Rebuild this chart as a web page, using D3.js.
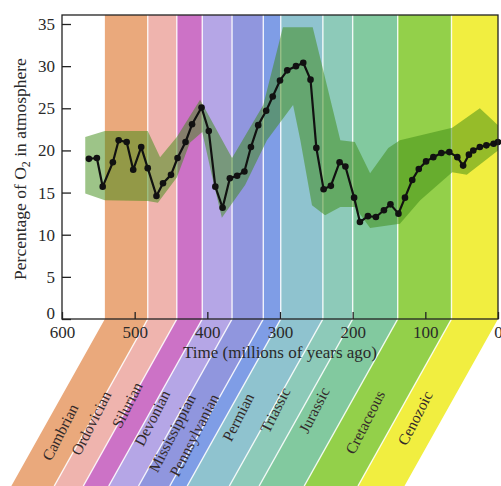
<!DOCTYPE html>
<html><head><meta charset="utf-8">
<script src="https://cdn.jsdelivr.net/npm/d3@7"></script>
<style>body{margin:0;background:#fff;overflow:hidden}svg{display:block}</style>
</head><body><svg id="c" width="501" height="486"></svg>
<script>
// ---------- data ----------
const periods = ["Cambrian","Ordovician","Silurian","Devonian","Mississippian","Pennsylvanian","Permian","Triassic","Jurassic","Cretaceous","Cenozoic"];
const periodStartMa = [541,482,442,407,366,323,299,241,200,138,64];
const periodEndMa   = [482,442,407,366,323,299,241,200,138,64,0];

const ageMa = [563,552,544,530,522,511,502,491,482,470,461,450,441,430,421,408,398,389,379,369,359,349,340,330,319,310,300,290,278,268,258,250,240,230,218,210,198,190,179,168,157,148,137,128,118,109,99,89,78,67,56,48,40,34,25,16,6,0];
const o2Pct = [19.0,19.1,15.7,18.6,21.2,21.0,17.7,20.4,17.9,14.6,16.1,17.1,19.1,21.0,23.1,25.1,22.3,15.7,13.2,16.7,17.0,17.5,20.4,23.0,24.7,26.4,28.3,29.5,30.0,30.4,28.4,20.3,15.4,15.8,18.6,18.1,14.4,11.5,12.2,12.1,12.9,13.6,12.5,14.4,16.5,17.8,18.7,19.2,19.7,19.8,19.2,18.2,19.5,20.0,20.4,20.6,20.8,21.0];

const envUpperMa  = [568,541,482,465,442,410,366,323,296,255,217,197,176,151,135,63,25,0];
const envUpperPct = [21.6,22.3,22.3,19.2,21.6,26.0,19.1,25.4,34.6,34.6,21.2,21.0,17.3,20.3,21.2,22.7,25.0,23.0];
const envLowerMa  = [568,541,482,468,442,424,407,394,380,348,318,282,272,256,238,217,197,176,135,107,63,43,0];
const envLowerPct = [14.9,14.1,14.0,13.8,16.8,20.9,22.2,17.1,12.0,15.9,21.2,25.4,21.2,13.5,12.3,13.3,13.3,10.8,11.3,14.1,17.4,17.1,20.0];

const xTickValues = [600,500,400,300,200,100,0];
const yTickValues = [0,5,10,15,20,25,30,35];

// ---------- style / layout ----------
const bandColors = ["#eaa97c","#efb4ae","#cc72c6","#b5a6e6","#9096de","#7f9de6","#8fc3cf","#8dcab9","#82c99f","#93d04a","#f1ee40"];
const labelCenters = [[60,432],[91,423],[127,405],[152,418],[172,433],[194,435],[238,417],[275,410],[314,410],[365,422],[415,418]];
const serif = "'Liberation Serif','Times New Roman',serif";
const W = 501, H = 486;
const plotL = 62, plotR = 498, plotT = 15, axisY = 319;
const shear = 0.56;

const svg = d3.select("#c");
const x = d3.scaleLinear().domain([600,0]).range([plotL,plotR]);
const y = d3.scaleLinear().domain([0,35]).range([axisY,24]);
const drop = H - axisY;

// bands
const bands = svg.append("g");
periods.forEach((p,i)=>{
  const x0 = x(periodStartMa[i]), x1 = x(periodEndMa[i]);
  const pts = [[x0,plotT],[x1,plotT],[x1,axisY],[x1-shear*drop,H],[x0-shear*drop,H],[x0,axisY]];
  bands.append("path").attr("d", d3.line()(pts)+"Z").attr("fill", bandColors[i]);
});
// separators
periodStartMa.slice(1).forEach(m=>{
  const xx = x(m);
  bands.append("path").attr("d", d3.line()([[xx,plotT],[xx,axisY],[xx-shear*drop,H]]))
    .attr("fill","none").attr("stroke","#fff").attr("stroke-width",1.4).attr("opacity",0.85);
});

// envelope
const up = envUpperMa.map((m,i)=>[x(m),y(envUpperPct[i])]);
const lo = envLowerMa.map((m,i)=>[x(m),y(envLowerPct[i])]).reverse();
svg.append("path").attr("d", d3.line()(up.concat(lo))+"Z")
  .attr("fill","#3b8a12").attr("fill-opacity",0.5);

// line + dots
const pts = ageMa.map((m,i)=>[x(m),y(o2Pct[i])]);
svg.append("path").attr("d", d3.line()(pts)).attr("fill","none")
  .attr("stroke","#111").attr("stroke-width",2.2).attr("stroke-linejoin","round");
svg.append("g").selectAll("circle").data(pts).join("circle")
  .attr("cx",d=>d[0]).attr("cy",d=>d[1]).attr("r",3.3).attr("fill","#111");

// frame
svg.append("rect").attr("x",plotL).attr("y",plotT).attr("width",plotR-plotL).attr("height",axisY-plotT)
  .attr("fill","none").attr("stroke","#222").attr("stroke-width",1.3);

// axes
const yAxis = d3.axisLeft(y).tickValues(yTickValues).tickSize(-9).tickPadding(7);
const gy = svg.append("g").attr("transform",`translate(${plotL},0)`).call(yAxis);
const xAxis = d3.axisBottom(x).tickValues(xTickValues).tickSize(-7).tickPadding(7);
const gx = svg.append("g").attr("transform",`translate(0,${axisY})`).call(xAxis);
[gx,gy].forEach(g=>{
  g.select(".domain").remove();
  g.selectAll(".tick line").attr("stroke","#222").attr("stroke-width",1.3);
  g.selectAll("text").attr("font-family",serif).attr("font-size",17).attr("fill","#2a2a2a");
});
gy.selectAll(".tick text").filter(d=>d===0).attr("dy","-0.05em");

// axis titles
svg.append("text").attr("x",280).attr("y",358).attr("text-anchor","middle")
  .attr("font-family",serif).attr("font-size",17).attr("fill","#2a2a2a")
  .text("Time (millions of years ago)");
const yt = svg.append("text").attr("transform","translate(26,169) rotate(-90)")
  .attr("text-anchor","middle").attr("font-family",serif).attr("font-size",17.5).attr("fill","#2a2a2a");
yt.append("tspan").text("Percentage of O");
yt.append("tspan").attr("font-size",12).attr("dy",4).text("2");
yt.append("tspan").attr("dy",-4).text(" in atmosphere");

// period labels
periods.forEach((p,i)=>{
  const [cx,cy] = labelCenters[i];
  svg.append("text").attr("transform",`translate(${cx},${cy}) rotate(-63)`)
    .attr("text-anchor","middle").attr("dominant-baseline","central")
    .attr("font-family",serif).attr("font-size",15.5).attr("fill","#332a2a").text(p);
});
</script></body></html>
